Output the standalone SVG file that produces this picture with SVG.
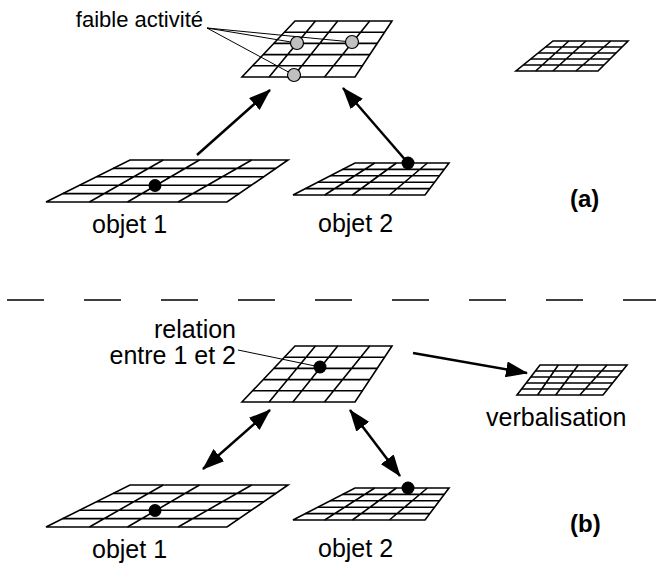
<svg xmlns="http://www.w3.org/2000/svg" width="656" height="564" viewBox="0 0 656 564">
<style>
.g{fill:none;stroke:#000;stroke-width:1.6;stroke-linejoin:miter}
.t{font-family:"Liberation Sans",Arial,sans-serif;font-size:25px;fill:#000}
.b{font-family:"Liberation Sans",Arial,sans-serif;font-size:24px;font-weight:bold;fill:#000}
.a{fill:none;stroke:#000;stroke-width:2.5}
.lead{fill:none;stroke:#000;stroke-width:1}
.dot{fill:#000}
.gray{fill:#c0c0c0;stroke:#000;stroke-width:1.2}
</style>
<defs>
<marker id="ah" markerWidth="22" markerHeight="16" refX="21" refY="8" orient="auto-start-reverse" markerUnits="userSpaceOnUse"><path d="M0,0 L22,8 L0,16 z" fill="#000"/></marker>
<g id="gridA"><polygon class="g" points="295,21 392,21 355,77 242,77"/><path class="g" d="M284.4,32.2 L384.6,32.2 M273.8,43.4 L377.2,43.4 M263.2,54.6 L369.8,54.6 M252.6,65.8 L362.4,65.8 M315.4,21 L269.1,77 M337.7,21 L292.9,77 M369.7,21 L324.5,77"/></g>
<g id="gridO1"><polygon class="g" points="130,160 288,160 227,202 46,202"/><path class="g" d="M113.2,168.4 L275.8,168.4 M96.4,176.8 L263.6,176.8 M79.6,185.2 L251.4,185.2 M62.8,193.6 L239.2,193.6 M163.2,160 L89.4,202 M199.5,160 L127.5,202 M251.7,160 L178.1,202"/></g>
<g id="gridO2"><polygon class="g" points="355,163 449,163 425,195 293,195"/><path class="g" d="M342.6,169.4 L444.2,169.4 M330.2,175.8 L439.4,175.8 M317.8,182.2 L434.6,182.2 M305.4,188.6 L429.8,188.6 M374.7,163 L324.7,195 M396.4,163 L352.4,195 M427.4,163 L389.4,195"/></g>
</defs>

<g id="connectors">
<line class="a" x1="197" y1="155" x2="270" y2="90" marker-end="url(#ah)"/>
<line class="a" x1="408" y1="163" x2="343" y2="88" marker-end="url(#ah)"/>
<line class="a" x1="413" y1="353" x2="527" y2="373" marker-end="url(#ah)"/>
<line class="a" x1="203" y1="469" x2="270" y2="410" marker-start="url(#ah)" marker-end="url(#ah)"/>
<line class="a" x1="400" y1="476" x2="350" y2="410" marker-start="url(#ah)" marker-end="url(#ah)"/>
<line x1="7" y1="300" x2="656" y2="300" stroke="#000" stroke-width="1.5" stroke-dasharray="37 40"/>
</g>

<g id="a-activity">
<use href="#gridA"/>
<path class="lead" d="M207,28 L297,43 M207,28 L352,42 M207,28 L294,75"/>
<circle class="gray" cx="297" cy="43" r="6.5"/>
<circle class="gray" cx="352" cy="42" r="6.5"/>
<circle class="gray" cx="294" cy="75" r="6.5"/>
<text class="t" x="203" y="27" text-anchor="end" style="font-size:22px">faible activité</text>
</g>

<g id="a-verbal">
<polygon class="g" points="553,41 628,41 598,71 516,71"/>
<path class="g" d="M545.6,47 L622,47 M538.2,53 L616,53 M530.8,59 L610,59 M523.4,65 L604,65 M568.8,41 L535.7,71 M586,41 L552.9,71 M610.8,41 L575.9,71"/>
</g>

<g id="a-objet1">
<use href="#gridO1"/>
<circle class="dot" cx="155" cy="185.5" r="6.5"/>
<text class="t" x="92" y="233">objet 1</text>
</g>

<g id="a-objet2">
<use href="#gridO2"/>
<circle class="dot" cx="408" cy="163" r="6.5"/>
<text class="t" x="318" y="232">objet 2</text>
</g>

<text class="b" x="570" y="207">(a)</text>

<g id="b-relation">
<use href="#gridA" transform="translate(0,325)"/>
<path class="lead" d="M238,350 L320,367"/>
<circle class="dot" cx="320" cy="367" r="6.5"/>
<text class="t" x="236" y="338" text-anchor="end">relation</text>
<text class="t" x="236" y="364" text-anchor="end">entre 1 et 2</text>
</g>

<g id="b-verbal">
<polygon class="g" points="540,365 627,365 603,395 517,395"/>
<path class="g" d="M535.4,371 L622.2,371 M530.8,377 L617.4,377 M526.2,383 L612.6,383 M521.6,389 L607.8,389 M558.3,365 L537.6,395 M578.3,365 L555.7,395 M607,365 L579.8,395"/>
<text class="t" x="486" y="426">verbalisation</text>
</g>

<g id="b-objet1">
<use href="#gridO1" transform="translate(0,325)"/>
<circle class="dot" cx="155" cy="510.5" r="6.5"/>
<text class="t" x="92" y="558">objet 1</text>
</g>

<g id="b-objet2">
<use href="#gridO2" transform="translate(0,325)"/>
<circle class="dot" cx="408" cy="488" r="6.5"/>
<text class="t" x="318" y="557">objet 2</text>
</g>

<text class="b" x="570" y="532">(b)</text>
</svg>
